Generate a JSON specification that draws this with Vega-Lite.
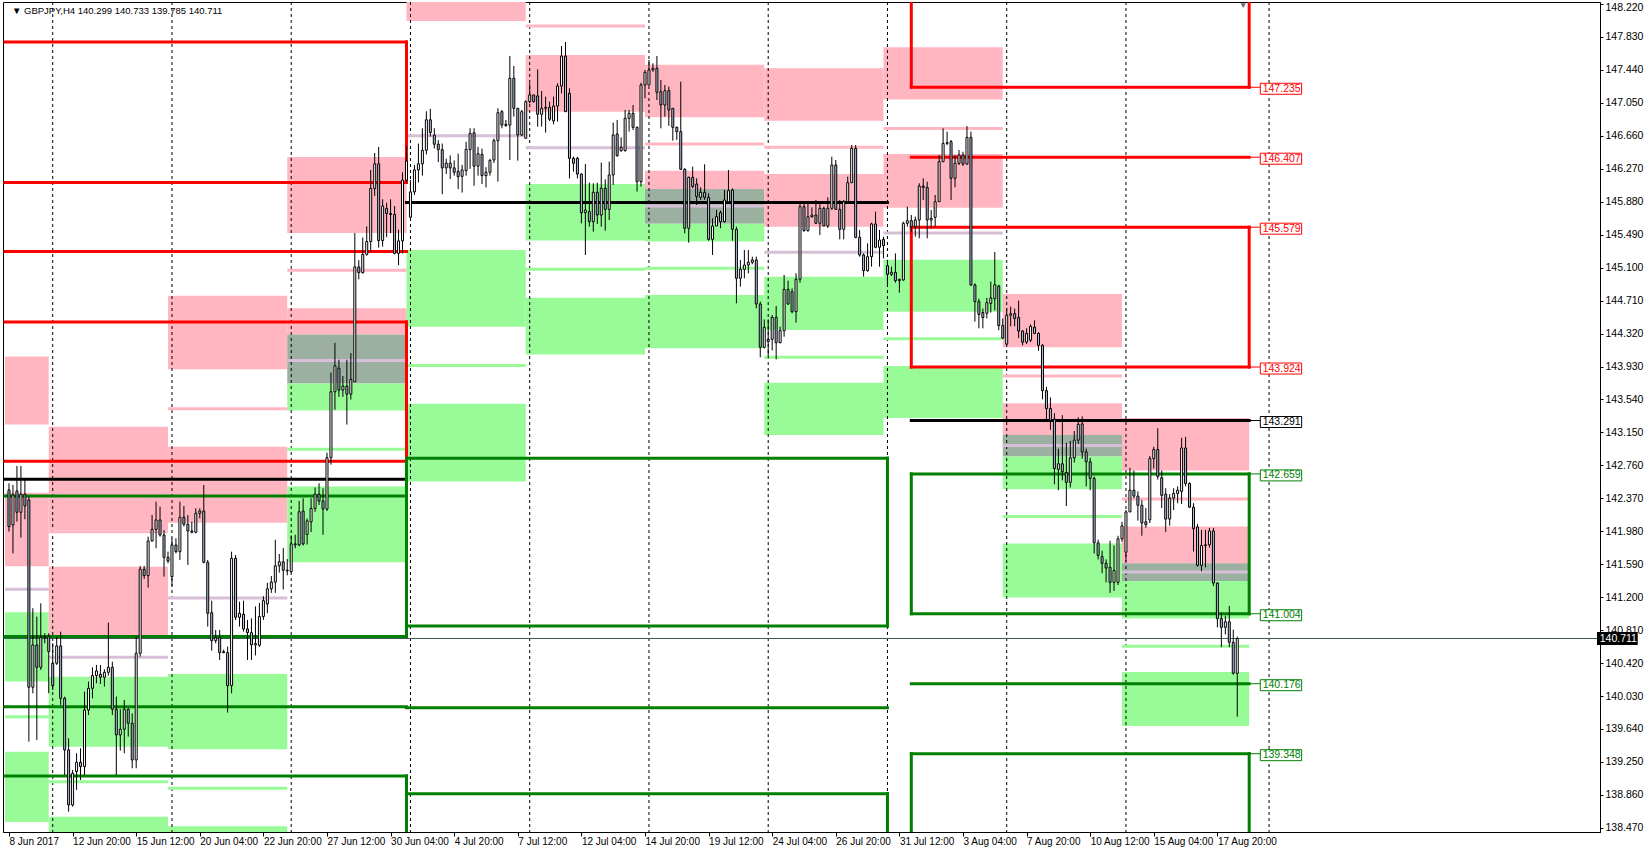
{
"$schema": "https://vega.github.io/schema/vega-lite/v6.json",
"width": 1597, "height": 830,
"autosize": {"type": "none"},
"padding": {"left": 3, "top": 2, "right": 44, "bottom": 19},
"background": "white",
"config": {"view": {"stroke": "black", "strokeWidth": 1}, "font": "Liberation Sans", "axis": {"labelOverlap": false, "labelBound": false}},
"datasets": {
"zones": [
{"b":-1,"b2":10,"p":144.048,"p2":143.243,"k":"zp"},
{"b":-1,"b2":10,"p":142.435,"p2":141.567,"k":"zp"},
{"b":-1,"b2":10,"p":141.021,"p2":140.202,"k":"zg"},
{"b":-1,"b2":10,"p":139.372,"p2":138.540,"k":"zg"},
{"b":10,"b2":40,"p":143.218,"p2":141.996,"k":"zp"},
{"b":10,"b2":40,"p":141.561,"p2":140.753,"k":"zp"},
{"b":10,"b2":40,"p":140.259,"p2":139.431,"k":"zg"},
{"b":10,"b2":40,"p":138.602,"p2":138.0,"k":"zg"},
{"b":40,"b2":70,"p":144.768,"p2":143.899,"k":"zp"},
{"b":40,"b2":70,"p":142.980,"p2":142.080,"k":"zp"},
{"b":40,"b2":70,"p":140.290,"p2":139.400,"k":"zg"},
{"b":40,"b2":70,"p":138.490,"p2":138.0,"k":"zg"},
{"b":70,"b2":100,"p":146.409,"p2":145.510,"k":"zp"},
{"b":70,"b2":100,"p":144.620,"p2":144.310,"k":"zp"},
{"b":70,"b2":100,"p":144.310,"p2":143.730,"k":"zx"},
{"b":70,"b2":100,"p":143.730,"p2":143.410,"k":"zg"},
{"b":70,"b2":100,"p":142.511,"p2":141.612,"k":"zg"},
{"b":100,"b2":130,"p":149.0,"p2":148.020,"k":"zp"},
{"b":100,"b2":130,"p":145.310,"p2":144.400,"k":"zg"},
{"b":100,"b2":130,"p":143.490,"p2":142.570,"k":"zg"},
{"b":130,"b2":160,"p":147.616,"p2":146.946,"k":"zp"},
{"b":130,"b2":160,"p":146.090,"p2":145.420,"k":"zg"},
{"b":130,"b2":160,"p":144.743,"p2":144.073,"k":"zg"},
{"b":160,"b2":190,"p":147.500,"p2":146.880,"k":"zp"},
{"b":160,"b2":190,"p":146.246,"p2":146.030,"k":"zp"},
{"b":160,"b2":190,"p":146.030,"p2":145.620,"k":"zx"},
{"b":160,"b2":190,"p":145.620,"p2":145.410,"k":"zg"},
{"b":160,"b2":190,"p":144.776,"p2":144.145,"k":"zg"},
{"b":190,"b2":220,"p":147.460,"p2":146.840,"k":"zp"},
{"b":190,"b2":220,"p":146.208,"p2":145.585,"k":"zp"},
{"b":190,"b2":220,"p":144.993,"p2":144.362,"k":"zg"},
{"b":190,"b2":220,"p":143.739,"p2":143.118,"k":"zg"},
{"b":220,"b2":250,"p":147.709,"p2":147.089,"k":"zp"},
{"b":220,"b2":250,"p":146.445,"p2":145.809,"k":"zp"},
{"b":220,"b2":250,"p":145.194,"p2":144.578,"k":"zg"},
{"b":220,"b2":250,"p":143.936,"p2":143.320,"k":"zg"},
{"b":250,"b2":280,"p":144.789,"p2":144.158,"k":"zp"},
{"b":250,"b2":280,"p":143.495,"p2":143.120,"k":"zp"},
{"b":250,"b2":280,"p":143.120,"p2":142.864,"k":"zx"},
{"b":250,"b2":280,"p":142.864,"p2":142.476,"k":"zg"},
{"b":250,"b2":280,"p":141.836,"p2":141.195,"k":"zg"},
{"b":280,"b2":312,"p":143.322,"p2":142.700,"k":"zp"},
{"b":280,"b2":312,"p":142.037,"p2":141.601,"k":"zp"},
{"b":280,"b2":312,"p":141.601,"p2":141.392,"k":"zx"},
{"b":280,"b2":312,"p":141.392,"p2":140.947,"k":"zg"},
{"b":280,"b2":312,"p":140.316,"p2":139.676,"k":"zg"}
],
"thin": [
{"b":-1,"b2":10,"p":141.293,"k":"lv"},
{"b":-1,"b2":10,"p":139.786,"k":"lg"},
{"b":10,"b2":40,"p":141.975,"k":"lp"},
{"b":10,"b2":40,"p":140.489,"k":"lv"},
{"b":10,"b2":40,"p":139.016,"k":"lg"},
{"b":40,"b2":70,"p":143.430,"k":"lp"},
{"b":40,"b2":70,"p":141.190,"k":"lv"},
{"b":40,"b2":70,"p":138.938,"k":"lg"},
{"b":70,"b2":100,"p":145.070,"k":"lp"},
{"b":70,"b2":100,"p":144.002,"k":"lv"},
{"b":70,"b2":100,"p":142.951,"k":"lg"},
{"b":100,"b2":130,"p":146.660,"k":"lv"},
{"b":100,"b2":130,"p":143.943,"k":"lg"},
{"b":130,"b2":160,"p":147.960,"k":"lp"},
{"b":130,"b2":160,"p":146.520,"k":"lv"},
{"b":130,"b2":160,"p":145.080,"k":"lg"},
{"b":160,"b2":190,"p":146.563,"k":"lp"},
{"b":160,"b2":190,"p":145.830,"k":"lv"},
{"b":160,"b2":190,"p":145.092,"k":"lg"},
{"b":190,"b2":220,"p":146.524,"k":"lp"},
{"b":190,"b2":220,"p":145.281,"k":"lv"},
{"b":190,"b2":220,"p":144.039,"k":"lg"},
{"b":220,"b2":250,"p":146.748,"k":"lp"},
{"b":220,"b2":250,"p":145.510,"k":"lv"},
{"b":220,"b2":250,"p":144.260,"k":"lg"},
{"b":250,"b2":280,"p":143.818,"k":"lp"},
{"b":250,"b2":280,"p":142.995,"k":"lv"},
{"b":250,"b2":280,"p":142.154,"k":"lg"},
{"b":280,"b2":312,"p":142.363,"k":"lp"},
{"b":280,"b2":312,"p":141.498,"k":"lv"},
{"b":280,"b2":312,"p":140.620,"k":"lg"}
],
"levels": [
{"b":-1,"b2":100,"p":147.771,"k":"R"},
{"b":-1,"b2":100,"p":146.109,"k":"R"},
{"b":-1,"b2":100,"p":145.290,"k":"R"},
{"b":-1,"b2":100,"p":144.458,"k":"R"},
{"b":-1,"b2":100,"p":142.808,"k":"R"},
{"b":-1,"b2":100,"p":142.596,"k":"P"},
{"b":-1,"b2":100,"p":142.399,"k":"S"},
{"b":-1,"b2":100,"p":140.736,"k":"S"},
{"b":-1,"b2":100,"p":139.904,"k":"S"},
{"b":-1,"b2":100,"p":139.085,"k":"S"},
{"b":100,"b2":221,"p":145.872,"k":"P"},
{"b":100,"b2":221,"p":142.845,"k":"S"},
{"b":100,"b2":221,"p":140.859,"k":"S"},
{"b":100,"b2":221,"p":139.892,"k":"S"},
{"b":100,"b2":221,"p":138.875,"k":"S"},
{"b":227,"b2":312,"p":147.235,"k":"R"},
{"b":227,"b2":312,"p":146.407,"k":"R"},
{"b":227,"b2":312,"p":145.579,"k":"R"},
{"b":227,"b2":312,"p":143.924,"k":"R"},
{"b":227,"b2":312,"p":143.291,"k":"P"},
{"b":227,"b2":312,"p":142.659,"k":"S"},
{"b":227,"b2":312,"p":141.004,"k":"S"},
{"b":227,"b2":312,"p":140.176,"k":"S"},
{"b":227,"b2":312,"p":139.348,"k":"S"}
],
"vlevels": [
{"b":100,"p":147.771,"p2":146.109,"k":"R"},
{"b":100,"p":144.458,"p2":142.808,"k":"R"},
{"b":100,"p":142.399,"p2":140.736,"k":"S"},
{"b":100,"p":139.085,"p2":137.5,"k":"S"},
{"b":100,"p":142.845,"p2":140.859,"k":"S"},
{"b":100,"p":138.875,"p2":137.5,"k":"S"},
{"b":221,"p":142.845,"p2":140.859,"k":"S"},
{"b":221,"p":138.875,"p2":137.5,"k":"S"},
{"b":227,"p":149.0,"p2":147.235,"k":"R"},
{"b":227,"p":145.579,"p2":143.924,"k":"R"},
{"b":227,"p":142.659,"p2":141.004,"k":"S"},
{"b":227,"p":139.348,"p2":137.5,"k":"S"},
{"b":312,"p":149.0,"p2":147.235,"k":"R"},
{"b":312,"p":145.579,"p2":143.924,"k":"R"},
{"b":312,"p":142.659,"p2":141.004,"k":"S"},
{"b":312,"p":139.348,"p2":137.5,"k":"S"}
],
"labels": [
{"p":147.235,"t":"147.235","k":"R"},
{"p":146.407,"t":"146.407","k":"R"},
{"p":145.579,"t":"145.579","k":"R"},
{"p":143.924,"t":"143.924","k":"R"},
{"p":143.291,"t":"143.291","k":"P"},
{"p":142.659,"t":"142.659","k":"S"},
{"p":141.004,"t":"141.004","k":"S"},
{"p":140.176,"t":"140.176","k":"S"},
{"p":139.348,"t":"139.348","k":"S"}
],
"grid": [{"b":11},{"b":41},{"b":71},{"b":101},{"b":131},{"b":161},{"b":191},{"b":221},{"b":251},{"b":281},{"b":317}],
"candles": [
{"b":0,"o":142.469,"h":142.548,"l":141.976,"c":142.035},
{"b":1,"o":142.055,"h":142.528,"l":141.719,"c":142.410},
{"b":2,"o":142.457,"h":142.753,"l":142.094,"c":142.205},
{"b":3,"o":142.205,"h":142.753,"l":141.905,"c":142.418},
{"b":4,"o":142.418,"h":142.587,"l":142.122,"c":142.280},
{"b":5,"o":142.351,"h":142.390,"l":139.491,"c":140.134},
{"b":6,"o":140.134,"h":141.069,"l":140.063,"c":140.635},
{"b":7,"o":140.635,"h":140.970,"l":139.510,"c":140.370},
{"b":8,"o":140.370,"h":141.128,"l":140.339,"c":140.725},
{"b":9,"o":140.725,"h":140.773,"l":140.654,"c":140.733},
{"b":10,"o":140.733,"h":140.773,"l":140.063,"c":140.556},
{"b":11,"o":140.418,"h":140.654,"l":140.102,"c":140.153},
{"b":12,"o":140.418,"h":140.733,"l":140.398,"c":140.623},
{"b":13,"o":140.623,"h":140.792,"l":139.925,"c":140.003},
{"b":14,"o":140.003,"h":140.023,"l":139.096,"c":139.392},
{"b":15,"o":139.392,"h":139.530,"l":138.662,"c":138.741},
{"b":16,"o":138.741,"h":139.155,"l":138.721,"c":139.116},
{"b":17,"o":139.136,"h":139.353,"l":138.919,"c":139.246},
{"b":18,"o":139.246,"h":139.412,"l":139.037,"c":139.195},
{"b":19,"o":139.195,"h":140.082,"l":139.096,"c":139.865},
{"b":20,"o":139.865,"h":140.201,"l":139.806,"c":140.122},
{"b":21,"o":140.122,"h":140.370,"l":140.003,"c":140.272},
{"b":22,"o":140.272,"h":140.398,"l":140.181,"c":140.327},
{"b":23,"o":140.288,"h":140.398,"l":140.173,"c":140.252},
{"b":24,"o":140.252,"h":140.347,"l":140.142,"c":140.311},
{"b":25,"o":140.311,"h":140.899,"l":140.272,"c":140.370},
{"b":26,"o":140.370,"h":140.437,"l":139.806,"c":139.873},
{"b":27,"o":139.873,"h":140.023,"l":139.096,"c":139.570},
{"b":28,"o":139.570,"h":139.873,"l":139.384,"c":139.637},
{"b":29,"o":139.637,"h":139.984,"l":139.353,"c":139.873},
{"b":30,"o":139.873,"h":139.885,"l":139.550,"c":139.708},
{"b":31,"o":139.708,"h":139.826,"l":139.175,"c":139.274},
{"b":32,"o":139.274,"h":140.733,"l":139.175,"c":140.536},
{"b":33,"o":140.536,"h":141.570,"l":140.497,"c":141.530},
{"b":34,"o":141.530,"h":141.570,"l":141.416,"c":141.455},
{"b":35,"o":141.455,"h":141.917,"l":141.313,"c":141.865},
{"b":36,"o":141.865,"h":142.173,"l":141.858,"c":142.003},
{"b":37,"o":142.003,"h":142.331,"l":141.779,"c":142.114},
{"b":38,"o":142.114,"h":142.272,"l":141.917,"c":141.936},
{"b":39,"o":141.936,"h":141.996,"l":141.443,"c":141.672},
{"b":40,"o":141.672,"h":141.739,"l":141.601,"c":141.629},
{"b":41,"o":141.443,"h":141.897,"l":141.333,"c":141.818},
{"b":42,"o":141.818,"h":141.897,"l":141.719,"c":141.739},
{"b":43,"o":141.739,"h":142.331,"l":141.641,"c":142.145},
{"b":44,"o":142.145,"h":142.280,"l":142.035,"c":142.063},
{"b":45,"o":142.063,"h":142.173,"l":141.581,"c":141.984},
{"b":46,"o":141.984,"h":142.094,"l":141.956,"c":141.968},
{"b":47,"o":141.968,"h":142.252,"l":141.956,"c":142.193},
{"b":48,"o":142.193,"h":142.252,"l":142.134,"c":142.220},
{"b":49,"o":142.220,"h":142.528,"l":141.601,"c":141.613},
{"b":50,"o":141.613,"h":141.641,"l":140.852,"c":141.009},
{"b":51,"o":141.017,"h":141.159,"l":140.568,"c":140.686},
{"b":52,"o":140.686,"h":140.812,"l":140.654,"c":140.721},
{"b":53,"o":140.721,"h":140.812,"l":140.457,"c":140.544},
{"b":54,"o":140.544,"h":140.580,"l":140.536,"c":140.556},
{"b":55,"o":140.544,"h":140.615,"l":139.834,"c":140.153},
{"b":56,"o":140.153,"h":141.739,"l":140.063,"c":141.660},
{"b":57,"o":141.660,"h":141.700,"l":140.930,"c":140.962},
{"b":58,"o":140.962,"h":141.147,"l":140.852,"c":141.009},
{"b":59,"o":140.998,"h":141.159,"l":140.792,"c":140.824},
{"b":60,"o":140.824,"h":140.930,"l":140.457,"c":140.781},
{"b":61,"o":140.781,"h":140.950,"l":140.457,"c":140.635},
{"b":62,"o":140.635,"h":141.091,"l":140.511,"c":140.651},
{"b":63,"o":140.631,"h":141.131,"l":140.611,"c":140.971},
{"b":64,"o":140.971,"h":141.211,"l":140.931,"c":141.159},
{"b":65,"o":141.119,"h":141.371,"l":141.011,"c":141.299},
{"b":66,"o":141.299,"h":141.451,"l":141.251,"c":141.379},
{"b":67,"o":141.379,"h":141.879,"l":141.251,"c":141.571},
{"b":68,"o":141.571,"h":141.711,"l":141.491,"c":141.619},
{"b":69,"o":141.619,"h":141.783,"l":141.291,"c":141.519},
{"b":70,"o":141.519,"h":141.651,"l":141.459,"c":141.511},
{"b":71,"o":141.503,"h":141.931,"l":141.491,"c":141.831},
{"b":72,"o":141.831,"h":141.939,"l":141.779,"c":141.819},
{"b":73,"o":141.819,"h":142.339,"l":141.803,"c":142.211},
{"b":74,"o":142.219,"h":142.371,"l":141.811,"c":141.831},
{"b":75,"o":141.943,"h":142.131,"l":141.823,"c":142.103},
{"b":76,"o":142.091,"h":142.371,"l":141.971,"c":142.251},
{"b":77,"o":142.251,"h":142.499,"l":142.211,"c":142.419},
{"b":78,"o":142.419,"h":142.549,"l":142.291,"c":142.339},
{"b":79,"o":142.339,"h":142.489,"l":141.939,"c":142.243},
{"b":80,"o":142.243,"h":142.911,"l":142.220,"c":142.851},
{"b":81,"o":142.851,"h":143.859,"l":142.769,"c":143.631},
{"b":82,"o":143.631,"h":144.210,"l":143.419,"c":143.938},
{"b":83,"o":143.909,"h":144.010,"l":143.571,"c":143.651},
{"b":84,"o":143.651,"h":143.817,"l":143.571,"c":143.699},
{"b":85,"o":143.699,"h":144.010,"l":143.243,"c":143.603},
{"b":86,"o":143.603,"h":144.089,"l":143.539,"c":143.777},
{"b":87,"o":143.749,"h":145.509,"l":143.749,"c":145.109},
{"b":88,"o":145.109,"h":145.189,"l":144.961,"c":145.041},
{"b":89,"o":145.041,"h":145.457,"l":145.029,"c":145.257},
{"b":90,"o":145.257,"h":145.589,"l":145.241,"c":145.409},
{"b":91,"o":145.409,"h":146.257,"l":145.289,"c":146.037},
{"b":92,"o":146.037,"h":146.457,"l":145.949,"c":146.329},
{"b":93,"o":146.329,"h":146.529,"l":145.337,"c":145.421},
{"b":94,"o":145.421,"h":145.909,"l":145.349,"c":145.829},
{"b":95,"o":145.801,"h":145.869,"l":145.460,"c":145.741},
{"b":96,"o":145.741,"h":145.909,"l":145.509,"c":145.729},
{"b":97,"o":145.729,"h":145.829,"l":145.257,"c":145.269},
{"b":98,"o":145.269,"h":145.549,"l":145.129,"c":145.417},
{"b":99,"o":145.417,"h":146.229,"l":145.269,"c":146.137},
{"b":100,"o":146.137,"h":146.537,"l":146.109,"c":146.361},
{"b":101,"o":145.697,"h":146.137,"l":145.681,"c":145.997},
{"b":102,"o":145.997,"h":146.317,"l":145.961,"c":146.257},
{"b":103,"o":146.257,"h":146.569,"l":146.109,"c":146.329},
{"b":104,"o":146.329,"h":146.750,"l":146.189,"c":146.489},
{"b":105,"o":146.489,"h":146.950,"l":146.440,"c":146.850},
{"b":106,"o":146.850,"h":146.980,"l":146.650,"c":146.700},
{"b":107,"o":146.669,"h":146.750,"l":146.510,"c":146.561},
{"b":108,"o":146.561,"h":146.609,"l":146.349,"c":146.497},
{"b":109,"o":146.497,"h":146.569,"l":145.969,"c":146.281},
{"b":110,"o":146.281,"h":146.389,"l":146.209,"c":146.337},
{"b":111,"o":146.337,"h":146.429,"l":146.149,"c":146.281},
{"b":112,"o":146.281,"h":146.369,"l":146.189,"c":146.229},
{"b":113,"o":146.240,"h":146.449,"l":146.029,"c":146.177},
{"b":114,"o":146.181,"h":146.317,"l":145.989,"c":146.257},
{"b":115,"o":146.249,"h":146.589,"l":146.189,"c":146.501},
{"b":116,"o":146.497,"h":146.750,"l":146.269,"c":146.689},
{"b":117,"o":146.697,"h":146.750,"l":146.069,"c":146.301},
{"b":118,"o":146.301,"h":146.529,"l":146.189,"c":146.449},
{"b":119,"o":146.441,"h":146.509,"l":146.089,"c":146.189},
{"b":120,"o":146.189,"h":146.289,"l":146.049,"c":146.229},
{"b":121,"o":146.229,"h":146.389,"l":146.189,"c":146.369},
{"b":122,"o":146.374,"h":146.629,"l":146.340,"c":146.603},
{"b":123,"o":146.603,"h":146.986,"l":146.118,"c":146.934},
{"b":124,"o":146.946,"h":146.966,"l":146.749,"c":146.788},
{"b":125,"o":146.796,"h":146.848,"l":146.769,"c":146.780},
{"b":126,"o":146.788,"h":147.605,"l":146.374,"c":147.341},
{"b":127,"o":147.341,"h":147.487,"l":146.887,"c":146.986},
{"b":128,"o":146.986,"h":146.986,"l":146.366,"c":146.670},
{"b":129,"o":146.670,"h":146.966,"l":146.658,"c":146.946},
{"b":130,"o":146.631,"h":147.080,"l":146.631,"c":147.065},
{"b":131,"o":147.065,"h":147.282,"l":147.045,"c":147.144},
{"b":132,"o":147.144,"h":147.144,"l":147.053,"c":147.065},
{"b":133,"o":147.132,"h":147.447,"l":146.769,"c":146.915},
{"b":134,"o":146.915,"h":147.191,"l":146.769,"c":146.986},
{"b":135,"o":146.986,"h":147.124,"l":146.698,"c":146.998},
{"b":136,"o":146.998,"h":147.065,"l":146.836,"c":146.856},
{"b":137,"o":146.836,"h":147.124,"l":146.796,"c":147.013},
{"b":138,"o":147.013,"h":147.282,"l":146.828,"c":147.250},
{"b":139,"o":147.250,"h":147.723,"l":147.163,"c":147.605},
{"b":140,"o":147.605,"h":147.771,"l":146.946,"c":146.946},
{"b":141,"o":147.163,"h":147.222,"l":146.157,"c":146.394},
{"b":142,"o":146.394,"h":146.413,"l":146.236,"c":146.335},
{"b":143,"o":146.394,"h":146.413,"l":146.157,"c":146.208},
{"b":144,"o":146.208,"h":146.216,"l":145.625,"c":145.751},
{"b":145,"o":145.751,"h":146.327,"l":145.250,"c":145.782},
{"b":146,"o":145.763,"h":146.106,"l":145.585,"c":145.644},
{"b":147,"o":145.644,"h":146.098,"l":145.526,"c":145.992},
{"b":148,"o":145.992,"h":146.106,"l":145.617,"c":145.723},
{"b":149,"o":145.723,"h":146.343,"l":145.585,"c":146.039},
{"b":150,"o":146.039,"h":146.145,"l":145.538,"c":145.790},
{"b":151,"o":145.790,"h":146.354,"l":145.664,"c":146.197},
{"b":152,"o":146.197,"h":146.816,"l":146.079,"c":146.670},
{"b":153,"o":146.682,"h":146.848,"l":146.414,"c":146.425},
{"b":154,"o":146.485,"h":146.642,"l":146.473,"c":146.524},
{"b":155,"o":146.485,"h":146.966,"l":146.473,"c":146.868},
{"b":156,"o":146.868,"h":146.966,"l":146.710,"c":146.926},
{"b":157,"o":146.926,"h":147.025,"l":146.729,"c":146.761},
{"b":158,"o":146.761,"h":146.769,"l":146.000,"c":146.118},
{"b":159,"o":146.118,"h":147.289,"l":146.059,"c":147.262},
{"b":160,"o":147.262,"h":147.439,"l":147.104,"c":147.412},
{"b":161,"o":147.262,"h":147.558,"l":147.262,"c":147.439},
{"b":162,"o":147.439,"h":147.518,"l":147.419,"c":147.459},
{"b":163,"o":147.459,"h":147.605,"l":147.084,"c":147.175},
{"b":164,"o":147.183,"h":147.321,"l":146.749,"c":147.025},
{"b":165,"o":147.025,"h":147.262,"l":146.887,"c":147.195},
{"b":166,"o":147.195,"h":147.242,"l":146.777,"c":146.966},
{"b":167,"o":146.986,"h":146.986,"l":146.603,"c":146.761},
{"b":168,"o":146.761,"h":146.769,"l":146.611,"c":146.710},
{"b":169,"o":146.710,"h":147.301,"l":146.256,"c":146.264},
{"b":170,"o":146.264,"h":146.276,"l":145.506,"c":145.566},
{"b":171,"o":145.566,"h":146.177,"l":145.396,"c":146.169},
{"b":172,"o":146.169,"h":146.295,"l":146.039,"c":146.059},
{"b":173,"o":146.090,"h":146.157,"l":145.842,"c":145.940},
{"b":174,"o":145.932,"h":146.051,"l":145.901,"c":145.992},
{"b":175,"o":145.992,"h":146.323,"l":145.901,"c":145.932},
{"b":176,"o":145.932,"h":145.980,"l":145.419,"c":145.435},
{"b":177,"o":145.435,"h":145.684,"l":145.250,"c":145.593},
{"b":178,"o":145.593,"h":145.783,"l":145.593,"c":145.704},
{"b":179,"o":145.751,"h":145.775,"l":145.566,"c":145.644},
{"b":180,"o":145.644,"h":146.020,"l":145.632,"c":145.901},
{"b":181,"o":145.881,"h":146.256,"l":145.860,"c":146.011},
{"b":182,"o":146.019,"h":146.039,"l":145.420,"c":145.554},
{"b":183,"o":145.553,"h":145.585,"l":144.678,"c":144.974},
{"b":184,"o":144.974,"h":145.190,"l":144.875,"c":145.080},
{"b":185,"o":145.080,"h":145.309,"l":144.974,"c":145.131},
{"b":186,"o":145.131,"h":145.309,"l":145.033,"c":145.163},
{"b":187,"o":145.163,"h":145.230,"l":145.140,"c":145.191},
{"b":188,"o":145.191,"h":145.230,"l":144.619,"c":144.670},
{"b":189,"o":144.670,"h":144.698,"l":144.039,"c":144.157},
{"b":190,"o":144.157,"h":144.488,"l":144.145,"c":144.394},
{"b":191,"o":144.252,"h":144.488,"l":144.027,"c":144.224},
{"b":192,"o":144.252,"h":144.540,"l":144.120,"c":144.512},
{"b":193,"o":144.512,"h":144.646,"l":144.015,"c":144.212},
{"b":194,"o":144.212,"h":144.402,"l":144.205,"c":144.354},
{"b":195,"o":144.354,"h":145.013,"l":144.283,"c":144.843},
{"b":196,"o":144.843,"h":144.946,"l":144.658,"c":144.670},
{"b":197,"o":144.816,"h":144.855,"l":144.560,"c":144.579},
{"b":198,"o":144.579,"h":145.033,"l":144.449,"c":144.962},
{"b":199,"o":144.962,"h":145.861,"l":144.923,"c":145.822},
{"b":200,"o":145.822,"h":145.881,"l":145.526,"c":145.538},
{"b":201,"o":145.538,"h":145.861,"l":145.526,"c":145.703},
{"b":202,"o":145.703,"h":145.814,"l":145.690,"c":145.723},
{"b":203,"o":145.723,"h":145.901,"l":145.617,"c":145.625},
{"b":204,"o":145.625,"h":145.881,"l":145.487,"c":145.802},
{"b":205,"o":145.802,"h":145.822,"l":145.593,"c":145.593},
{"b":206,"o":145.593,"h":145.932,"l":145.570,"c":145.802},
{"b":207,"o":145.802,"h":146.413,"l":145.782,"c":146.315},
{"b":208,"o":146.315,"h":146.374,"l":145.782,"c":145.790},
{"b":209,"o":145.790,"h":145.901,"l":145.435,"c":145.553},
{"b":210,"o":145.553,"h":145.901,"l":145.435,"c":145.881},
{"b":211,"o":145.881,"h":146.177,"l":145.861,"c":146.106},
{"b":212,"o":146.106,"h":146.551,"l":146.100,"c":146.512},
{"b":213,"o":146.512,"h":146.551,"l":145.447,"c":145.459},
{"b":214,"o":145.459,"h":145.546,"l":145.230,"c":145.250},
{"b":215,"o":145.250,"h":145.270,"l":144.994,"c":145.064},
{"b":216,"o":145.064,"h":145.388,"l":145.052,"c":145.230},
{"b":217,"o":145.230,"h":145.632,"l":145.112,"c":145.617},
{"b":218,"o":145.617,"h":145.763,"l":145.329,"c":145.341},
{"b":219,"o":145.341,"h":145.546,"l":145.112,"c":145.427},
{"b":220,"o":145.435,"h":145.466,"l":145.210,"c":145.360},
{"b":221,"o":145.123,"h":145.191,"l":144.875,"c":145.021},
{"b":222,"o":145.021,"h":145.112,"l":145.000,"c":145.045},
{"b":223,"o":145.045,"h":145.269,"l":144.922,"c":144.946},
{"b":224,"o":144.946,"h":144.970,"l":144.804,"c":144.962},
{"b":225,"o":144.954,"h":145.644,"l":144.946,"c":145.625},
{"b":226,"o":145.625,"h":145.822,"l":145.585,"c":145.656},
{"b":227,"o":145.656,"h":145.723,"l":145.526,"c":145.585},
{"b":228,"o":145.585,"h":145.704,"l":145.467,"c":145.664},
{"b":229,"o":145.664,"h":146.098,"l":145.447,"c":146.066},
{"b":230,"o":146.066,"h":146.157,"l":145.901,"c":146.050},
{"b":231,"o":146.050,"h":146.118,"l":145.447,"c":145.664},
{"b":232,"o":145.664,"h":145.782,"l":145.565,"c":145.684},
{"b":233,"o":145.696,"h":145.960,"l":145.585,"c":145.881},
{"b":234,"o":145.881,"h":146.433,"l":145.881,"c":146.354},
{"b":235,"o":146.354,"h":146.749,"l":146.354,"c":146.571},
{"b":236,"o":146.571,"h":146.710,"l":146.550,"c":146.579},
{"b":237,"o":146.591,"h":146.611,"l":145.901,"c":146.157},
{"b":238,"o":146.157,"h":146.433,"l":146.051,"c":146.335},
{"b":239,"o":146.335,"h":146.492,"l":146.315,"c":146.433},
{"b":240,"o":146.433,"h":146.472,"l":146.303,"c":146.327},
{"b":241,"o":146.327,"h":146.776,"l":146.315,"c":146.642},
{"b":242,"o":146.642,"h":146.709,"l":144.883,"c":144.895},
{"b":243,"o":144.895,"h":144.915,"l":144.461,"c":144.698},
{"b":244,"o":144.698,"h":144.733,"l":144.382,"c":144.546},
{"b":245,"o":144.569,"h":144.616,"l":144.382,"c":144.509},
{"b":246,"o":144.560,"h":144.742,"l":144.499,"c":144.686},
{"b":247,"o":144.677,"h":144.934,"l":144.569,"c":144.742},
{"b":248,"o":144.733,"h":145.285,"l":144.593,"c":144.897},
{"b":249,"o":144.883,"h":144.897,"l":144.359,"c":144.415},
{"b":250,"o":144.415,"h":144.499,"l":144.256,"c":144.266},
{"b":251,"o":144.195,"h":144.616,"l":144.181,"c":144.537},
{"b":252,"o":144.537,"h":144.639,"l":144.406,"c":144.555},
{"b":253,"o":144.555,"h":144.616,"l":144.406,"c":144.499},
{"b":254,"o":144.509,"h":144.710,"l":144.266,"c":144.350},
{"b":255,"o":144.350,"h":144.359,"l":144.181,"c":144.219},
{"b":256,"o":144.219,"h":144.382,"l":144.195,"c":144.322},
{"b":257,"o":144.242,"h":144.429,"l":144.219,"c":144.406},
{"b":258,"o":144.396,"h":144.476,"l":144.312,"c":144.322},
{"b":259,"o":144.322,"h":144.336,"l":144.116,"c":144.181},
{"b":260,"o":144.181,"h":144.195,"l":143.541,"c":143.644},
{"b":261,"o":143.644,"h":143.690,"l":143.307,"c":143.433},
{"b":262,"o":143.433,"h":143.564,"l":143.181,"c":143.293},
{"b":263,"o":143.307,"h":143.377,"l":142.536,"c":142.723},
{"b":264,"o":142.713,"h":142.957,"l":142.466,"c":142.779},
{"b":265,"o":142.779,"h":143.354,"l":142.583,"c":142.685},
{"b":266,"o":142.676,"h":143.027,"l":142.279,"c":142.559},
{"b":267,"o":142.559,"h":143.050,"l":142.499,"c":142.849},
{"b":268,"o":142.849,"h":143.167,"l":142.793,"c":143.059},
{"b":269,"o":143.059,"h":143.330,"l":143.013,"c":143.246},
{"b":270,"o":143.251,"h":143.340,"l":142.840,"c":142.919},
{"b":271,"o":142.919,"h":142.957,"l":142.512,"c":142.802},
{"b":272,"o":142.802,"h":142.849,"l":142.466,"c":142.606},
{"b":273,"o":142.606,"h":142.629,"l":141.717,"c":141.844},
{"b":274,"o":141.844,"h":141.881,"l":141.647,"c":141.694},
{"b":275,"o":141.680,"h":141.750,"l":141.484,"c":141.601},
{"b":276,"o":141.601,"h":141.647,"l":141.376,"c":141.545},
{"b":277,"o":141.554,"h":141.867,"l":141.251,"c":141.376},
{"b":278,"o":141.376,"h":141.811,"l":141.274,"c":141.517},
{"b":279,"o":141.376,"h":141.927,"l":141.344,"c":141.891},
{"b":280,"o":141.891,"h":142.092,"l":141.858,"c":142.045},
{"b":281,"o":141.732,"h":142.232,"l":141.624,"c":142.209},
{"b":282,"o":142.209,"h":142.732,"l":142.209,"c":142.466},
{"b":283,"o":142.466,"h":142.699,"l":142.372,"c":142.396},
{"b":284,"o":142.396,"h":142.452,"l":142.106,"c":142.288},
{"b":285,"o":142.288,"h":142.349,"l":141.927,"c":142.078},
{"b":286,"o":142.092,"h":142.256,"l":142.022,"c":142.059},
{"b":287,"o":142.115,"h":142.872,"l":142.078,"c":142.840},
{"b":288,"o":142.840,"h":142.980,"l":142.723,"c":142.947},
{"b":289,"o":142.947,"h":143.199,"l":142.592,"c":142.629},
{"b":290,"o":142.615,"h":142.699,"l":142.255,"c":142.405},
{"b":291,"o":142.419,"h":142.489,"l":141.973,"c":142.124},
{"b":292,"o":142.124,"h":142.419,"l":142.046,"c":142.372},
{"b":293,"o":142.372,"h":142.489,"l":142.232,"c":142.428},
{"b":294,"o":142.428,"h":142.512,"l":142.312,"c":142.466},
{"b":295,"o":142.452,"h":143.087,"l":142.302,"c":142.966},
{"b":296,"o":142.966,"h":143.097,"l":142.512,"c":142.545},
{"b":297,"o":142.545,"h":142.559,"l":142.255,"c":142.265},
{"b":298,"o":142.265,"h":142.312,"l":141.741,"c":142.012},
{"b":299,"o":142.031,"h":142.068,"l":141.563,"c":141.577},
{"b":300,"o":141.577,"h":141.997,"l":141.507,"c":141.811},
{"b":301,"o":141.811,"h":141.997,"l":141.554,"c":141.820},
{"b":302,"o":141.820,"h":142.021,"l":141.788,"c":141.984},
{"b":303,"o":141.984,"h":142.021,"l":141.330,"c":141.367},
{"b":304,"o":141.367,"h":141.376,"l":140.843,"c":140.946},
{"b":305,"o":140.946,"h":141.016,"l":140.609,"c":140.843},
{"b":306,"o":140.843,"h":140.983,"l":140.759,"c":140.909},
{"b":307,"o":140.909,"h":141.095,"l":140.609,"c":140.666},
{"b":308,"o":140.666,"h":140.815,"l":140.282,"c":140.301},
{"b":309,"o":140.299,"h":140.733,"l":139.785,"c":140.711}
]
},
"layer": [
{
"data": {"name": "zones"},
"mark": {"type": "rect", "clip": true},
"encoding": {
"x": {"field": "b", "type": "quantitative", "scale": {"domain": [-0.25, 399], "nice": false, "zero": false},
 "axis": {"orient": "bottom", "title": null, "grid": false, "values": [0,16,32,48,64,80,96,112,128,144,160,176,192,208,224,240,256,272,288,304], "tickCount": 60,
 "labelExpr": "['8 Jun 2017','12 Jun 20:00','15 Jun 12:00','20 Jun 04:00','22 Jun 20:00','27 Jun 12:00','30 Jun 04:00','4 Jul 20:00','7 Jul 12:00','12 Jul 04:00','14 Jul 20:00','19 Jul 12:00','24 Jul 04:00','26 Jul 20:00','31 Jul 12:00','3 Aug 04:00','7 Aug 20:00','10 Aug 12:00','15 Aug 04:00','17 Aug 20:00'][round(datum.value/16)]",
 "labelAlign": "left", "labelBaseline": "top", "labelPadding": 0, "tickSize": 4, "tickColor": "black", "domainColor": "black",
 "labelColor": "black", "labelFont": "Liberation Sans", "labelFontSize": 10, "labelOverlap": false, "labelFlush": false}},
"x2": {"field": "b2"},
"y": {"field": "p", "type": "quantitative", "scale": {"domain": [138.421, 148.244], "nice": false, "zero": false},
 "axis": {"orient": "right", "title": null, "grid": false, "format": ".3f", "tickCount": 60,
 "values": [138.47,138.86,139.25,139.64,140.03,140.42,140.81,141.2,141.59,141.98,142.37,142.76,143.15,143.54,143.93,144.32,144.71,145.1,145.49,145.88,146.27,146.66,147.05,147.44,147.83,148.22],
 "tickSize": 3, "tickColor": "black", "domainColor": "black", "labelColor": "black", "labelFont": "Liberation Sans",
 "labelFontSize": 10.5, "labelPadding": 2, "labelBaseline": "middle", "labelOverlap": false, "labelFlush": false,
 "labelOffset": {"condition": {"test": "datum.value > 148", "value": 3}, "value": 0}}},
"y2": {"field": "p2"},
"color": {"field": "k", "type": "nominal", "legend": null,
 "scale": {"domain": ["zp","zg","zx","lp","lv","lg","R","P","S"], "range": ["#FFB6C1","#98FB98","#9BB0A0","#FFB6C1","#D8BFD8","#98FB98","#FF0000","#000000","#008000"]}}
}
},
{
"data": {"name": "grid"},
"mark": {"type": "rule", "color": "black", "strokeWidth": 1, "strokeDash": [3,3]},
"encoding": {"x": {"field": "b", "type": "quantitative", "axis": {"title": null, "labelOverlap": false}}}
},
{
"data": {"name": "thin"},
"mark": {"type": "rule", "strokeWidth": 3, "clip": true},
"encoding": {
"x": {"field": "b", "type": "quantitative", "axis": {"title": null, "labelOverlap": false}},
"x2": {"field": "b2"},
"y": {"field": "p", "type": "quantitative", "axis": {"title": null, "labelOverlap": false}},
"color": {"field": "k", "type": "nominal", "legend": null}
}
},
{
"data": {"values": [{"v": 140.711}]},
"mark": {"type": "rule", "color": "#3B5A5A", "strokeWidth": 1},
"encoding": {"y": {"field": "v", "type": "quantitative", "axis": {"title": null, "labelOverlap": false}}}
},
{
"data": {"name": "levels"},
"mark": {"type": "rule", "strokeWidth": 3, "clip": true, "strokeCap": "square"},
"encoding": {
"x": {"field": "b", "type": "quantitative", "axis": {"title": null, "labelOverlap": false}},
"x2": {"field": "b2"},
"y": {"field": "p", "type": "quantitative", "axis": {"title": null, "labelOverlap": false}},
"color": {"field": "k", "type": "nominal", "legend": null}
}
},
{
"data": {"name": "vlevels"},
"mark": {"type": "rule", "strokeWidth": 3, "clip": true, "strokeCap": "square"},
"encoding": {
"x": {"field": "b", "type": "quantitative", "axis": {"title": null, "labelOverlap": false}},
"y": {"field": "p", "type": "quantitative", "axis": {"title": null, "labelOverlap": false}},
"y2": {"field": "p2"},
"color": {"field": "k", "type": "nominal", "legend": null}
}
},
{
"data": {"name": "labels"},
"mark": {"type": "rule", "strokeWidth": 1},
"encoding": {
"x": {"datum": 312, "type": "quantitative", "axis": {"title": null, "labelOverlap": false}},
"x2": {"datum": 314.8},
"y": {"field": "p", "type": "quantitative", "axis": {"title": null, "labelOverlap": false}},
"color": {"field": "k", "type": "nominal", "legend": null}
}
},
{
"data": {"name": "labels"},
"mark": {"type": "rect", "height": 11, "fill": "white", "strokeWidth": 1, "yOffset": 1.5},
"encoding": {
"x": {"datum": 314.8, "type": "quantitative", "axis": {"title": null, "labelOverlap": false}},
"x2": {"datum": 325.2},
"y": {"field": "p", "type": "quantitative", "axis": {"title": null, "labelOverlap": false}},
"stroke": {"field": "k", "type": "nominal", "legend": null,
 "scale": {"domain": ["R","P","S"], "range": ["#FF0000","#000000","#008000"]}}
}
},
{
"data": {"name": "labels"},
"mark": {"type": "text", "align": "left", "baseline": "middle", "fontSize": 10.5, "font": "Liberation Sans", "dy": 1.5},
"encoding": {
"x": {"datum": 315.4, "type": "quantitative", "axis": {"title": null, "labelOverlap": false}},
"y": {"field": "p", "type": "quantitative", "axis": {"title": null, "labelOverlap": false}},
"text": {"field": "t"},
"color": {"field": "k", "type": "nominal", "legend": null}
}
},
{
"data": {"name": "candles"},
"mark": {"type": "rule", "color": "black", "strokeWidth": 1},
"encoding": {
"x": {"field": "b", "type": "quantitative", "axis": {"title": null, "labelOverlap": false}},
"y": {"field": "l", "type": "quantitative", "axis": {"title": null, "labelOverlap": false}},
"y2": {"field": "h"}
}
},
{
"data": {"name": "candles"},
"mark": {"type": "bar", "size": 2, "stroke": "black", "strokeWidth": 1},
"encoding": {
"x": {"field": "b", "type": "quantitative", "axis": {"title": null, "labelOverlap": false}},
"y": {"field": "o", "type": "quantitative", "axis": {"title": null, "labelOverlap": false}},
"y2": {"field": "c"},
"fill": {"condition": {"test": "datum.c >= datum.o", "value": "#FFFFFF"}, "value": "#B0C4DE"}
}
},
{
"data": {"values": [{"t": "140.711", "v": 140.711}]},
"mark": {"type": "rect", "height": 13, "fill": "black"},
"encoding": {
"x": {"datum": 399.5, "type": "quantitative", "axis": {"title": null, "labelOverlap": false}},
"x2": {"datum": 409.75},
"y": {"field": "v", "type": "quantitative", "axis": {"title": null, "labelOverlap": false}}
}
},
{
"data": {"values": [{"t": "140.711", "v": 140.711}]},
"mark": {"type": "text", "align": "left", "baseline": "middle", "fontSize": 10.5, "font": "Liberation Sans", "color": "white"},
"encoding": {
"x": {"datum": 400.2, "type": "quantitative", "axis": {"title": null, "labelOverlap": false}},
"y": {"field": "v", "type": "quantitative", "axis": {"title": null, "labelOverlap": false}},
"text": {"field": "t"}
}
},
{
"data": {"values": [{"t": "▼ GBPJPY,H4  140.299 140.733 139.785 140.711", "v": 148.102}]},
"mark": {"type": "text", "align": "left", "baseline": "alphabetic", "fontSize": 9.5, "font": "Liberation Sans", "color": "black"},
"encoding": {
"x": {"datum": 0.75, "type": "quantitative", "axis": {"title": null, "labelOverlap": false}},
"y": {"field": "v", "type": "quantitative", "axis": {"title": null, "labelOverlap": false}},
"text": {"field": "t"}
}
},
{
"data": {"values": [{"v": 148.2}]},
"mark": {"type": "point", "shape": "triangle-down", "filled": true, "color": "#333333", "size": 30},
"encoding": {
"x": {"datum": 310.5, "type": "quantitative", "axis": {"title": null, "labelOverlap": false}},
"y": {"field": "v", "type": "quantitative", "axis": {"title": null, "labelOverlap": false}}
}
}
]
}
